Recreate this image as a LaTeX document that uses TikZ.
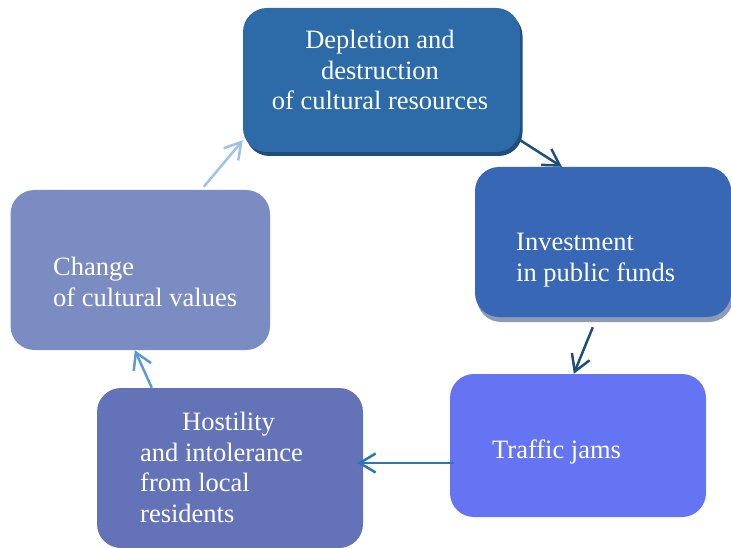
\documentclass[tikz,border=0pt]{standalone}
\usepackage{fontspec}
\setmainfont{Liberation Serif}
\usetikzlibrary{arrows.meta,positioning,shadows}

\definecolor{deplblue}{RGB}{44,107,168}
\definecolor{deplshade}{RGB}{31,78,125}
\definecolor{investblue}{RGB}{55,103,181}
\definecolor{investshade}{RGB}{143,155,180}
\definecolor{trafblue}{RGB}{100,116,242}
\definecolor{hostblue}{RGB}{100,115,184}
\definecolor{changeblue}{RGB}{123,140,194}
\definecolor{arrdark}{RGB}{31,78,121}
\definecolor{arrmid}{RGB}{46,117,182}
\definecolor{arrsoft}{RGB}{91,155,213}
\definecolor{arrpale}{RGB}{157,195,230}

\begin{document}
\begin{tikzpicture}[
  box/.style={rectangle, rounded corners=24pt, inner sep=0pt},
  txt/.style={text=white, font=\fontsize{26.5}{30.5}\selectfont, inner sep=0pt},
  flow/.style={line width=2.5pt, -{Straight Barb[length=16pt,width=19pt]}}
]
\useasboundingbox (0,0) rectangle (731pt,-548pt);
\node[box, fill=deplblue, minimum width=277pt, minimum height=144pt,
  drop shadow={shadow xshift=2.5pt, shadow yshift=-4pt, fill=deplshade, opacity=1}] (depl) at (381.5pt,-80pt) {};
\node[box, fill=investblue, minimum width=256pt, minimum height=150pt,
  drop shadow={shadow xshift=2pt, shadow yshift=-5pt, fill=investshade, opacity=1}] (invest) at (603pt,-242pt) {};
\node[box, fill=trafblue, minimum width=256pt, minimum height=143pt] (traffic) at (578pt,-445.5pt) {};
\node[box, fill=hostblue, minimum width=266pt, minimum height=160pt] (hostil) at (230pt,-468pt) {};
\node[box, fill=changeblue, minimum width=259.5pt, minimum height=160pt] (change) at (140.25pt,-270pt) {};
\node[txt, anchor=base, align=center] (deplText) at (380pt,-110pt) {Depletion and\\destruction\\of cultural resources};
\node[txt, anchor=base west, align=left] (investText) at (516pt,-281pt) {Investment\\in public funds};
\node[txt, anchor=base west] (trafText) at (492pt,-458pt) {Traffic jams};
\node[txt, anchor=base west, align=left] (hostText) at (140pt,-522pt) {\hspace*{42pt}Hostility\\and intolerance\\from local\\residents};
\node[txt, anchor=base west, align=left] (changeText) at (53pt,-306pt) {Change\\of cultural values};
\draw[flow, arrdark] ([yshift=12pt]depl.south east) -- ([xshift=87pt]invest.north west);
\draw[flow, arrdark] ([xshift=118pt,yshift=-10pt]invest.south west) -- ([xshift=124pt]traffic.north west);
\draw[flow, arrmid] ([xshift=4pt,yshift=-17.5pt]traffic.west) -- ([xshift=-6pt,yshift=5pt]hostil.east);
\draw[flow, arrsoft] ([xshift=55pt]hostil.north west) -- ([xshift=124.5pt]change.south west);
\draw[flow, arrpale] ([xshift=193.5pt,yshift=3pt]change.north west) -- ([yshift=12pt]depl.south west);
\end{tikzpicture}
\end{document}
